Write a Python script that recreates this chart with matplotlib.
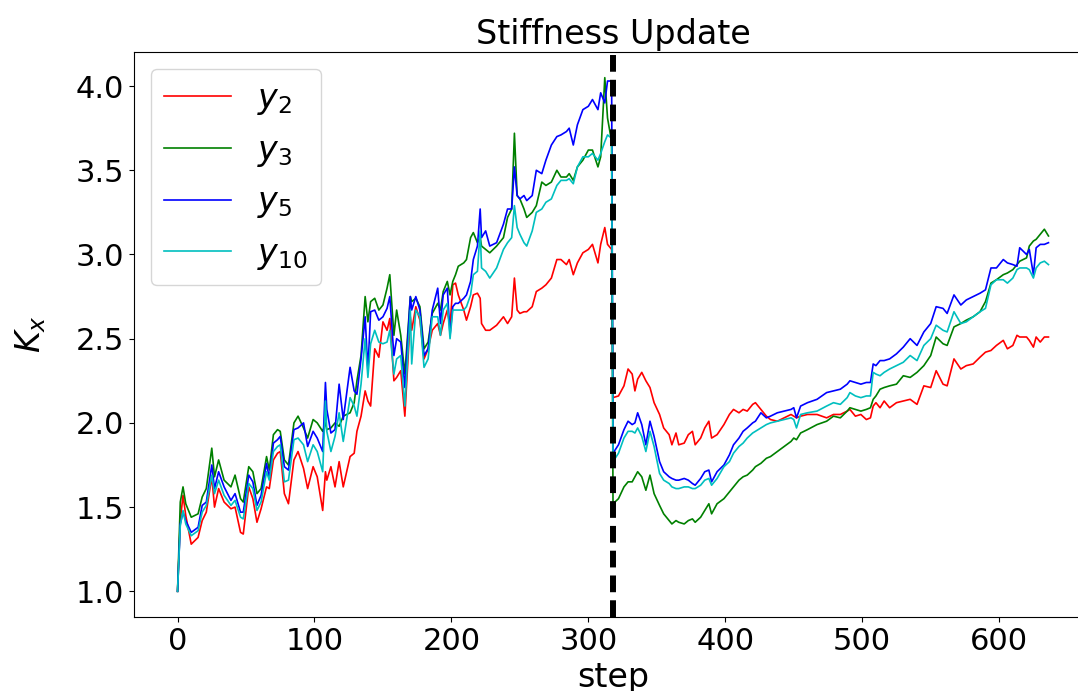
import matplotlib
matplotlib.use("Agg")
import matplotlib.pyplot as plt

# steps (before and after the stiffness update)
steps = [0, 2, 4, 6, 10, 15, 18, 21, 25, 27,
         30, 34, 39, 42, 46, 48, 52, 55, 58, 61,
         65, 67, 70, 73, 75, 78, 81, 85, 88, 92,
         95, 99, 102, 106, 108, 109, 112, 115, 118, 121,
         126, 129, 131, 134, 137, 139, 141, 144, 147, 150,
         153, 155, 158, 160, 163, 166, 170, 171, 174, 177,
         180, 183, 186, 190, 192, 194, 197, 199, 201, 203,
         205, 209, 211, 214, 216, 219, 221, 222, 225, 228,
         233, 238, 241, 244, 246, 248, 250, 253, 255, 259,
         262, 266, 269, 273, 277, 280, 284, 286, 289, 292,
         296, 300, 303, 307, 309, 312, 314, 317,
         318, 322, 326, 329, 332, 334, 336, 339, 342, 345,
         348, 352, 355, 359, 361, 364, 366, 370, 373, 376,
         378, 382, 385, 388, 390, 394, 399, 403, 406, 410,
         413, 416, 420, 422, 426, 430, 433, 438, 443, 448,
         450, 452, 455, 460, 467, 474, 479, 484, 489, 491,
         495, 499, 503, 506, 508, 510, 513, 516, 520, 525,
         530, 535, 540, 545, 550, 554, 559, 562, 567, 572,
         576, 581, 586, 590, 594, 598, 603, 606, 610, 613,
         615, 620, 622, 625, 627, 630, 633, 636]

k_y2 = [1.00, 1.42, 1.57, 1.45, 1.28, 1.32, 1.42, 1.47, 1.68, 1.50,
        1.61, 1.53, 1.49, 1.50, 1.35, 1.34, 1.62, 1.55, 1.41, 1.49,
        1.62, 1.61, 1.78, 1.82, 1.83, 1.58, 1.52, 1.78, 1.83, 1.73,
        1.61, 1.74, 1.68, 1.48, 1.71, 1.66, 1.74, 1.62, 1.77, 1.62,
        1.80, 1.82, 1.95, 2.04, 2.19, 2.13, 2.10, 2.44, 2.39, 2.60,
        2.55, 2.62, 2.25, 2.27, 2.31, 2.04, 2.63, 2.55, 2.69, 2.61,
        2.38, 2.44, 2.55, 2.59, 2.52, 2.59, 2.67, 2.57, 2.82, 2.83,
        2.76, 2.67, 2.61, 2.69, 2.76, 2.77, 2.74, 2.59, 2.55, 2.55,
        2.58, 2.63, 2.59, 2.63, 2.86, 2.67, 2.65, 2.66, 2.66, 2.69,
        2.78, 2.80, 2.82, 2.86, 2.97, 2.97, 2.94, 2.97, 2.88, 2.95,
        3.01, 3.03, 3.06, 2.95, 3.06, 3.16, 3.06, 3.03,
        2.15, 2.16, 2.22, 2.32, 2.29, 2.19, 2.26, 2.30, 2.25, 2.21,
        2.12, 2.05, 1.97, 1.93, 1.87, 1.94, 1.87, 1.88, 1.93, 1.95,
        1.87, 1.91, 1.97, 2.01, 1.91, 1.93, 1.99, 2.05, 2.08, 2.06,
        2.08, 2.07, 2.11, 2.12, 2.08, 2.04, 2.02, 2.01, 2.03, 2.05,
        2.04, 2.03, 2.04, 2.05, 2.05, 2.03, 2.05, 2.05, 2.07, 2.08,
        2.04, 2.05, 2.02, 2.03, 2.10, 2.12, 2.09, 2.13, 2.09, 2.12,
        2.13, 2.14, 2.11, 2.22, 2.21, 2.31, 2.23, 2.22, 2.38, 2.32,
        2.34, 2.35, 2.39, 2.42, 2.43, 2.46, 2.49, 2.44, 2.46, 2.52,
        2.51, 2.51, 2.49, 2.45, 2.51, 2.48, 2.51, 2.51]

k_y3 = [1.00, 1.53, 1.62, 1.52, 1.44, 1.46, 1.56, 1.61, 1.85, 1.68,
        1.78, 1.66, 1.62, 1.69, 1.55, 1.53, 1.74, 1.71, 1.58, 1.61,
        1.80, 1.72, 1.93, 1.96, 1.95, 1.78, 1.75, 2.00, 2.04, 1.97,
        1.91, 2.02, 2.00, 1.95, 2.00, 1.96, 1.97, 2.00, 1.98, 2.04,
        2.06, 2.12, 2.25, 2.40, 2.75, 2.60, 2.72, 2.74, 2.67, 2.70,
        2.80, 2.88, 2.52, 2.67, 2.52, 2.29, 2.75, 2.72, 2.74, 2.69,
        2.44, 2.48, 2.65, 2.71, 2.67, 2.78, 2.84, 2.76, 2.84, 2.88,
        2.93, 2.95, 2.97, 3.10, 3.13, 3.07, 3.10, 3.05, 3.03, 3.01,
        3.05, 3.10, 3.22, 3.27, 3.72, 3.35, 3.33, 3.27, 3.22, 3.25,
        3.29, 3.43, 3.41, 3.43, 3.50, 3.46, 3.46, 3.48, 3.44, 3.52,
        3.56, 3.62, 3.62, 3.52, 3.58, 4.05, 3.81, 3.67,
        1.52, 1.55, 1.62, 1.65, 1.65, 1.68, 1.71, 1.68, 1.60, 1.69,
        1.58, 1.51, 1.46, 1.42, 1.40, 1.42, 1.41, 1.40, 1.42, 1.43,
        1.41, 1.44, 1.48, 1.52, 1.46, 1.52, 1.55, 1.59, 1.62, 1.66,
        1.68, 1.69, 1.72, 1.74, 1.76, 1.79, 1.80, 1.83, 1.86, 1.89,
        1.91, 1.90, 1.94, 1.96, 1.99, 2.01, 2.04, 2.03, 2.07, 2.09,
        2.08, 2.07, 2.08, 2.09, 2.14, 2.16, 2.20, 2.21, 2.22, 2.23,
        2.28, 2.27, 2.30, 2.34, 2.40, 2.51, 2.47, 2.46, 2.57, 2.59,
        2.61, 2.63, 2.66, 2.72, 2.83, 2.85, 2.88, 2.89, 2.91, 2.94,
        2.96, 2.98, 3.05, 3.08, 3.09, 3.12, 3.15, 3.11]

k_y5 = [1.00, 1.40, 1.47, 1.42, 1.35, 1.38, 1.51, 1.53, 1.75, 1.61,
        1.71, 1.62, 1.54, 1.58, 1.47, 1.47, 1.69, 1.65, 1.51, 1.57,
        1.76, 1.67, 1.88, 1.90, 1.92, 1.74, 1.72, 1.96, 1.97, 2.00,
        1.86, 1.95, 1.91, 1.83, 2.24, 2.08, 1.94, 1.96, 2.23, 2.02,
        2.33, 2.19, 2.17, 2.38, 2.63, 2.31, 2.66, 2.67, 2.61, 2.63,
        2.68, 2.75, 2.40, 2.50, 2.48, 2.21, 2.75, 2.67, 2.75, 2.67,
        2.40, 2.44, 2.67, 2.80, 2.59, 2.76, 2.80, 2.52, 2.69, 2.71,
        2.71, 2.74, 2.76, 2.84, 2.97, 3.05, 3.27, 3.10, 3.14, 3.05,
        3.07, 3.18, 3.27, 3.27, 3.52, 3.35, 3.33, 3.35, 3.32, 3.35,
        3.50, 3.48, 3.56, 3.65, 3.70, 3.71, 3.73, 3.75, 3.65, 3.77,
        3.86, 3.88, 3.92, 3.86, 3.96, 3.90, 4.03, 4.03,
        1.82, 1.87, 1.96, 2.01, 1.99, 2.00, 2.06, 1.99, 1.87, 2.01,
        1.92, 1.77, 1.71, 1.68, 1.67, 1.66, 1.66, 1.67, 1.66, 1.64,
        1.63, 1.67, 1.71, 1.72, 1.65, 1.71, 1.75, 1.81, 1.87, 1.91,
        1.95, 1.97, 2.00, 2.01, 2.06, 2.03, 2.04, 2.06, 2.07, 2.08,
        2.09, 2.03, 2.10, 2.12, 2.14, 2.18, 2.19, 2.20, 2.23, 2.25,
        2.24, 2.23, 2.24, 2.24, 2.35, 2.34, 2.37, 2.37, 2.38, 2.41,
        2.45, 2.50, 2.46, 2.54, 2.59, 2.69, 2.68, 2.65, 2.76, 2.70,
        2.73, 2.75, 2.77, 2.79, 2.92, 2.92, 2.97, 2.95, 2.94, 2.93,
        3.04, 3.00, 3.03, 2.88, 3.04, 3.06, 3.06, 3.07]

k_y10 = [1.00, 1.39, 1.48, 1.40, 1.33, 1.36, 1.47, 1.51, 1.69, 1.58,
         1.66, 1.57, 1.51, 1.54, 1.44, 1.43, 1.64, 1.61, 1.48, 1.53,
         1.71, 1.66, 1.83, 1.86, 1.87, 1.65, 1.66, 1.90, 1.91, 1.87,
         1.77, 1.87, 1.83, 1.71, 2.13, 1.95, 1.83, 1.92, 2.06, 1.89,
         2.15, 2.10, 2.04, 2.23, 2.50, 2.27, 2.47, 2.55, 2.48, 2.47,
         2.48, 2.55, 2.29, 2.38, 2.40, 2.10, 2.67, 2.35, 2.67, 2.63,
         2.33, 2.38, 2.63, 2.63, 2.52, 2.67, 2.71, 2.50, 2.67, 2.67,
         2.67, 2.67, 2.69, 2.76, 2.88, 2.90, 3.14, 2.92, 2.90, 2.86,
         2.92, 3.03, 3.07, 3.10, 3.29, 3.16, 3.12, 3.07, 3.05, 3.14,
         3.25, 3.27, 3.31, 3.33, 3.41, 3.44, 3.44, 3.45, 3.42, 3.52,
         3.58, 3.58, 3.60, 3.56, 3.60, 3.67, 3.71, 3.69,
         1.77, 1.82, 1.91, 1.95, 1.95, 1.94, 1.97, 1.92, 1.83, 1.95,
         1.86, 1.70, 1.66, 1.64, 1.62, 1.61, 1.61, 1.62, 1.62, 1.61,
         1.61, 1.63, 1.66, 1.67, 1.63, 1.67, 1.74, 1.77, 1.82, 1.86,
         1.88, 1.91, 1.94, 1.95, 1.97, 1.99, 2.00, 2.01, 2.02, 2.03,
         2.02, 1.97, 2.05, 2.06, 2.07, 2.10, 2.12, 2.11, 2.15, 2.18,
         2.16, 2.15, 2.16, 2.16, 2.30, 2.29, 2.28, 2.30, 2.32, 2.34,
         2.36, 2.40, 2.37, 2.46, 2.50, 2.58, 2.55, 2.54, 2.66, 2.59,
         2.60, 2.63, 2.66, 2.68, 2.82, 2.85, 2.85, 2.83, 2.86, 2.91,
         2.92, 2.92, 2.91, 2.86, 2.92, 2.95, 2.96, 2.94]

update_step = 318

fig = plt.figure(figsize=(10.78, 6.91), dpi=100)
# the original image is cropped on the right, so the axes run past the edge
ax = fig.add_axes([0.1243, 0.1071, 0.8887, 0.8177])

ax.plot(steps, k_y2, 'r', lw=1.2, label='$y_2$')
ax.plot(steps, k_y3, 'g', lw=1.2, label='$y_3$')
ax.plot(steps, k_y5, 'b', lw=1.2, label='$y_5$')
ax.plot(steps, k_y10, 'c', lw=1.2, label='$y_{10}$')
ax.axvline(update_step, color='k', lw=4.3, linestyle=(0, (2.8, 1.35)))

ax.set_title('Stiffness Update', fontsize=24)
ax.set_xlabel('step', fontsize=24)
ax.set_ylabel('$K_x$', fontsize=24, labelpad=20)
ax.tick_params(labelsize=22)
ax.legend(loc='upper left', fontsize=24)

fig.savefig('out.png', dpi=100)
